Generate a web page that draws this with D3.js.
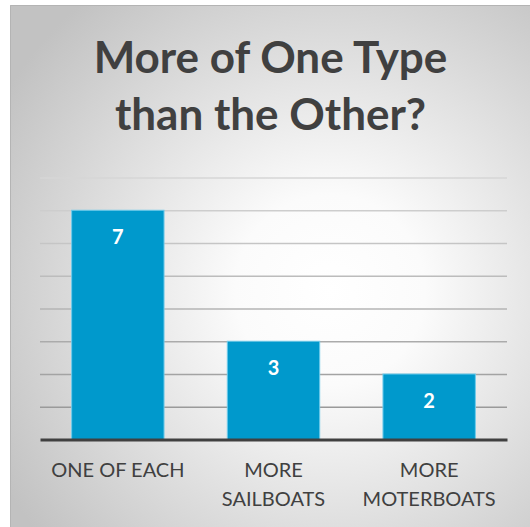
<!DOCTYPE html>
<html>
<head>
<meta charset="utf-8">
<script src="https://cdn.jsdelivr.net/npm/d3@7"></script>
<style>
  html, body { margin: 0; padding: 0; background: #ffffff; }
  svg { display: block; }
</style>
</head>
<body>
<svg id="chart" width="530" height="527"></svg>
<script>
// Survey answers: which kind of boat people own more of
const categories = [["ONE OF EACH"], ["MORE", "SAILBOATS"], ["MORE", "MOTERBOATS"]];
const values = [7, 3, 2];
const gridTicks = [1, 2, 3, 4, 5, 6, 7, 8];
const titleLines = ["More of One Type", "than the Other?"];

const W = 530, H = 527;
const svg = d3.select("#chart");

// Panel background: soft radial light, grey towards the edges
const defs = svg.append("defs");
const rg = defs.append("radialGradient")
  .attr("id", "panelBg")
  .attr("gradientUnits", "userSpaceOnUse")
  .attr("cx", 330).attr("cy", 290).attr("r", 380);
rg.append("stop").attr("offset", "0%").attr("stop-color", "#ffffff");
rg.append("stop").attr("offset", "25%").attr("stop-color", "#fbfbfb");
rg.append("stop").attr("offset", "100%").attr("stop-color", "#c2c2c2");

svg.append("rect")
  .attr("x", 10).attr("y", 5)
  .attr("width", W - 10).attr("height", H - 5)
  .attr("fill", "url(#panelBg)");
// left / top edge of the panel
svg.append("path")
  .attr("d", `M10.5,${H} V5.5 H${W}`)
  .attr("fill", "none")
  .attr("stroke", "#b4b4b4")
  .attr("stroke-width", 1);

const plot = { left: 40, right: 507, bottom: 439.5 };

const x = d3.scaleBand()
  .domain(d3.range(values.length))
  .range([plot.left, plot.right])
  .paddingInner(0.4)
  .paddingOuter(0.2);

const y = d3.scaleLinear()
  .domain([0, 8])
  .range([plot.bottom, plot.bottom - 8 * 32.75]);

// gridlines fade lighter toward the top
const gridColor = d3.scaleLinear().domain([1, 8]).range(["#9a9a9a", "#d6d6d6"]);

const gridAxis = d3.axisLeft(y)
  .tickValues(gridTicks)
  .tickSize(-(plot.right - plot.left))
  .tickFormat("");
const gAxis = svg.append("g")
  .attr("transform", `translate(${plot.left},0)`)
  .call(gridAxis);
gAxis.select(".domain").remove();
gAxis.selectAll(".tick line")
  .attr("stroke", d => gridColor(d))
  .attr("stroke-width", 1.4);

// Bars
svg.append("g").selectAll("rect")
  .data(values)
  .join("rect")
  .attr("x", (d, i) => x(i) + 0.5)
  .attr("y", d => y(d))
  .attr("width", x.bandwidth() - 1)
  .attr("height", d => y(0) - y(d))
  .attr("fill", "#0099cc")
  .attr("stroke", "#6fcbeb")
  .attr("stroke-width", 1);

// Value labels inside the top of each bar
svg.append("g").selectAll("text")
  .data(values)
  .join("text")
  .attr("x", (d, i) => x(i) + x.bandwidth() / 2)
  .attr("y", d => y(d) + 34)
  .attr("text-anchor", "middle")
  .attr("font-family", "Lato, 'Open Sans', sans-serif")
  .attr("font-weight", 700)
  .attr("font-size", 20)
  .attr("fill", "#ffffff")
  .text(d => d);

// Baseline
const baseAxis = d3.axisBottom(x).tickSize(0).tickFormat("");
const gBase = svg.append("g")
  .attr("transform", `translate(0,${plot.bottom})`)
  .call(baseAxis);
gBase.select(".domain")
  .attr("stroke", "#404040")
  .attr("stroke-width", 3);

// Category labels
const catG = svg.append("g").selectAll("text")
  .data(categories)
  .join("text")
  .attr("x", (d, i) => x(i) + x.bandwidth() / 2)
  .attr("y", 477)
  .attr("text-anchor", "middle")
  .attr("font-family", "Lato, 'Open Sans', sans-serif")
  .attr("font-size", 20)
  .attr("fill", "#404040");
catG.selectAll("tspan")
  .data(d => d)
  .join("tspan")
  .attr("x", function () { return d3.select(this.parentNode).attr("x"); })
  .attr("dy", (d, i) => i === 0 ? 0 : 28.5)
  .text(d => d);

// Title
svg.append("g").selectAll("text")
  .data(titleLines)
  .join("text")
  .attr("x", 270.5)
  .attr("y", (d, i) => 73 + i * 57)
  .attr("text-anchor", "middle")
  .attr("font-family", "Lato, 'Open Sans', sans-serif")
  .attr("font-weight", 700)
  .attr("font-size", 44)
  .attr("fill", "#404040")
  .text(d => d);
</script>
</body>
</html>
